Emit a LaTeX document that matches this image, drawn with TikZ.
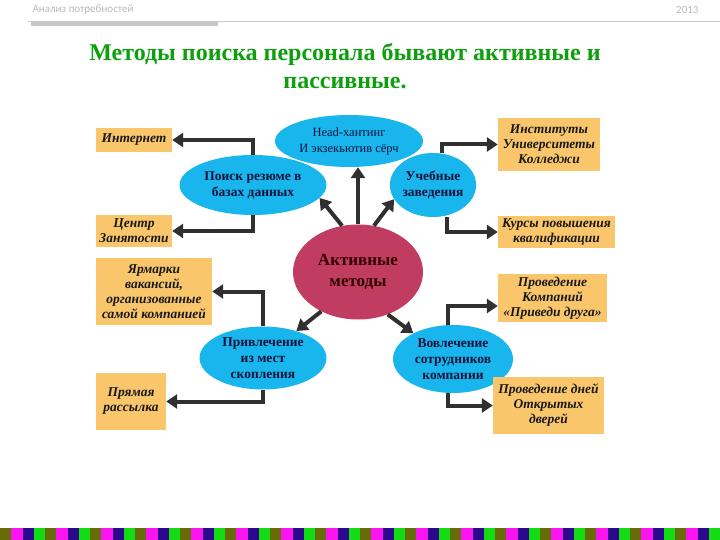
\documentclass[tikz,border=0pt]{standalone}
\usepackage{fontspec}
\setmainfont{Liberation Serif}
\newfontfamily\hdrfont{Carlito}
\usetikzlibrary{shapes.geometric,arrows.meta}

\definecolor{skyblob}{RGB}{24,182,236}
\definecolor{aktivred}{RGB}{192,60,96}
\definecolor{cardorange}{RGB}{250,198,108}
\definecolor{arrowdark}{RGB}{48,48,48}
\definecolor{titlegreen}{RGB}{12,160,12}
\definecolor{navytext}{RGB}{14,18,60}
\definecolor{olivebar}{RGB}{104,108,8}
\definecolor{magbar}{RGB}{250,20,240}
\definecolor{indbar}{RGB}{44,8,140}
\definecolor{grnbar}{RGB}{20,220,20}

\tikzset{
  blob/.style={ellipse, fill=skyblob, inner sep=0pt, align=center, text=navytext,
    font=\bfseries\fontsize{13.5}{16}\selectfont},
  card/.style={rectangle, fill=cardorange, inner sep=0pt, align=center, text=black!90,
    font=\bfseries\itshape\fontsize{13.5}{15}\selectfont},
  arr/.style={draw=arrowdark, line width=4pt, -{Triangle[length=11pt,width=14pt]}},
}

\begin{document}
\begin{tikzpicture}[x=1pt,y=-1pt]
    \useasboundingbox (0,0) rectangle (720,540);

    % Header
    \node[anchor=west, font=\hdrfont\fontsize{11}{11}\selectfont, text=black!28] (hdr) at (29,10) {Анализ потребностей};
    \node[anchor=east, font=\hdrfont\fontsize{11}{11}\selectfont, text=black!28] (year) at (702,10) {2013};
    \draw[black!20] (28,21) -- (720,21);
    \fill[black!22] (31,22) rectangle (218,26);

    % Title
    \node[font=\bfseries\fontsize{24}{28}\selectfont, text=titlegreen, align=center] (title) at (345,66)
      {Методы поиска персонала бывают активные и\\пассивные.};

    % Ellipses
    \node[blob, minimum width=148pt, minimum height=52pt, font=\fontsize{12.5}{16}\selectfont] (head) at (349,141) {Head-хантинг\\И экзекьютив сёрч};
    \node[blob, minimum width=147pt, minimum height=60pt] (poisk) at (253,185) {Поиск резюме в\\базах данных};
    \node[blob, minimum width=84pt, minimum height=64pt] (ucheb) at (433,185) {Учебные\\заведения};
    \node[blob, minimum width=127pt, minimum height=63pt] (privl) at (263,358) {Привлечение\\из мест\\скопления};
    \node[blob, minimum width=120pt, minimum height=68pt] (vovl) at (453,359) {Вовлечение\\сотрудников\\компании};
    \node[ellipse, fill=aktivred, inner sep=0pt, minimum width=130pt, minimum height=95pt, align=center,
      text=black!80!red, font=\bfseries\fontsize{17}{21}\selectfont] (aktiv) at (358,272) {Активные\\методы};

    % Boxes
    \node[card, minimum width=76pt, minimum height=24pt] (internet) at (134,140) {Интернет};
    \node[card, minimum width=76pt, minimum height=31pt] (centr) at (134,231) {Центр\\Занятости};
    \node[card, minimum width=116pt, minimum height=67pt] (yarmarki) at (154,291.5) {Ярмарки\\вакансий,\\организованные\\самой компанией};
    \node[card, minimum width=70pt, minimum height=57pt] (pryamaya) at (131,401.5) {Прямая\\рассылка};
    \node[card, minimum width=102pt, minimum height=53pt] (instituty) at (549,144.5) {Институты\\Университеты\\Колледжи};
    \node[card, minimum width=117pt, minimum height=32pt] (kursy) at (556.5,232) {Курсы повышения\\квалификации};
    \node[card, minimum width=109pt, minimum height=48pt] (privedi) at (552.5,298) {Проведение\\Компаний\\«Приведи друга»};
    \node[card, minimum width=111pt, minimum height=57pt] (dni) at (548.5,405.5) {Проведение дней\\Открытых\\дверей};

    % Arrows from the centre
    \draw[arr] (aktiv.north) -- (aktiv.north |- head.south);
    \draw[arr] (aktiv.109) -- (poisk.-11);
    \draw[arr] (aktiv.71) -- (ucheb.200);
    \draw[arr] (aktiv.227) -- (privl.39);
    \draw[arr] (aktiv.305) -- (vovl.147);

    % Elbow arrows to the boxes
    \draw[arr] (poisk.north) |- (internet.east);
    \draw[arr] (poisk.south) |- (centr.east);
    \draw[arr] ([xshift=9pt]ucheb.north) |- (instituty.west);
    \draw[arr] ([xshift=14pt]ucheb.south) |- (kursy.west);
    \draw[arr] (privl.north) |- (yarmarki.east);
    \draw[arr] (privl.south) |- (pryamaya.east);
    \draw[arr] ([xshift=-5pt]vovl.north) |- ([yshift=-8pt]privedi.west);
    \draw[arr] ([xshift=-5pt]vovl.south) |- (dni.west);

    % Footer strip
    \foreach \i in {0,...,15} {
      \fill[olivebar] (\i*45,528) rectangle ++(11.25,12);
      \fill[magbar] (\i*45+11.25,528) rectangle ++(11.25,12);
      \fill[indbar] (\i*45+22.5,528) rectangle ++(11.25,12);
      \fill[grnbar] (\i*45+33.75,528) rectangle ++(11.25,12);
    }
\end{tikzpicture}
\end{document}
